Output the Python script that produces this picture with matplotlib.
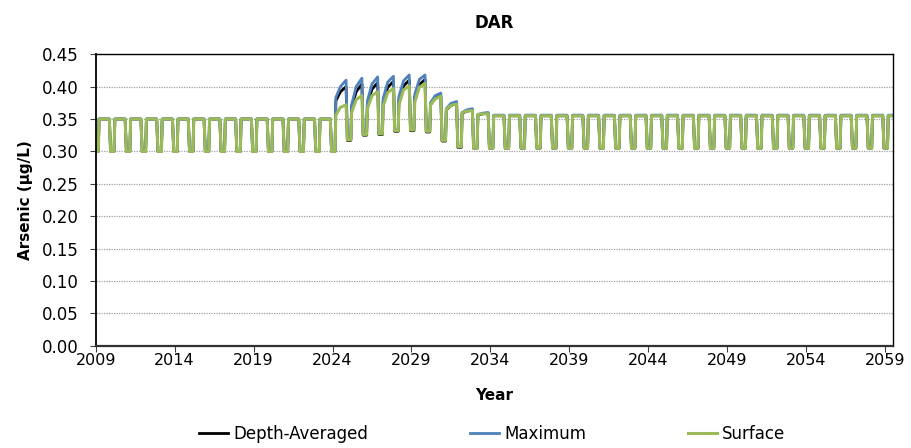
import matplotlib.pyplot as plt
import numpy as np

plt.rcParams['font.family'] = ['DejaVu Sans']

# yearly cycle values (2009 .. 2059)
years = list(range(2009, 2060))

# trough before each year's high period
surf_low = [0.30] * 16 + [0.318, 0.326, 0.327, 0.332, 0.333, 0.331, 0.317, 0.307] + [0.305] * 27
max_low = [0.30] * 16 + [0.319, 0.327, 0.328, 0.333, 0.334, 0.332, 0.318, 0.307] + [0.305] * 27
avg_low = [0.30] * 16 + [0.317, 0.325, 0.326, 0.331, 0.332, 0.330, 0.316, 0.306] + [0.305] * 27

# value right after the rise
surf_start = [0.35] * 15 + [0.356, 0.360, 0.366, 0.370, 0.372, 0.376, 0.372, 0.365, 0.360, 0.357] + [0.355] * 26
max_start = [0.35] * 15 + [0.383, 0.372, 0.378, 0.382, 0.385, 0.388, 0.375, 0.366, 0.360, 0.357] + [0.356] * 26
avg_start = [0.35] * 15 + [0.378, 0.368, 0.374, 0.378, 0.381, 0.384, 0.372, 0.364, 0.359, 0.356] + [0.355] * 26

# value in the middle of the high period
surf_mid = [0.35] * 15 + [0.368, 0.380, 0.386, 0.391, 0.395, 0.399, 0.381, 0.371, 0.362, 0.358] + [0.355] * 26
max_mid = [0.35] * 15 + [0.400, 0.400, 0.404, 0.407, 0.409, 0.411, 0.386, 0.374, 0.364, 0.359] + [0.356] * 26
avg_mid = [0.35] * 15 + [0.392, 0.392, 0.396, 0.399, 0.401, 0.403, 0.382, 0.371, 0.362, 0.358] + [0.355] * 26

# value just before the drop
surf_peak = [0.35] * 15 + [0.372, 0.386, 0.392, 0.397, 0.401, 0.405, 0.385, 0.373, 0.363, 0.358] + [0.355] * 26
max_peak = [0.35] * 15 + [0.410, 0.413, 0.415, 0.416, 0.418, 0.418, 0.390, 0.377, 0.366, 0.360] + [0.356] * 26
avg_peak = [0.35] * 15 + [0.400, 0.404, 0.406, 0.408, 0.410, 0.411, 0.386, 0.374, 0.364, 0.359] + [0.355] * 26

# timing of the cycle inside a year (fraction of year)
phase = [-0.06, 0.16, 0.21, 0.50, 0.86]


def cycle(low, start, mid, peak):
    t, v = [], []
    for i, y in enumerate(years):
        t += [y + p for p in phase]
        v += [low[i], low[i], start[i], mid[i], peak[i]]
    return np.array(t), np.array(v)


fig = plt.figure(figsize=(9.12, 4.48), dpi=100)
ax = fig.add_axes([0.105, 0.228, 0.874, 0.651])

ax.grid(axis='y', color='#a0a0a0', linestyle=(0, (1, 1)), linewidth=0.9)
ax.set_axisbelow(True)

t, v = cycle(avg_low, avg_start, avg_mid, avg_peak)
ax.plot(t, v, color='black', lw=2.0, label='Depth-Averaged', solid_joinstyle='round')
t, v = cycle(max_low, max_start, max_mid, max_peak)
ax.plot(t, v, color='#4F81BD', lw=2.0, label='Maximum', solid_joinstyle='round')
t, v = cycle(surf_low, surf_start, surf_mid, surf_peak)
ax.plot(t, v, color='#9BBB59', lw=2.2, label='Surface', solid_joinstyle='round')

ax.set_xlim(2009, 2059.5)
ax.set_ylim(0, 0.45)
ax.set_xticks(range(2009, 2060, 5))
ax.set_yticks(np.arange(0, 0.451, 0.05))
ax.set_yticklabels(['%.2f' % y for y in np.arange(0, 0.451, 0.05)])
ax.tick_params(axis='both', direction='out', length=4.3, color='#404040')
ax.tick_params(axis='y', labelsize=12, pad=8)
ax.tick_params(axis='x', labelsize=11.5, pad=1)
for s in ax.spines.values():
    s.set_color('black')
    s.set_linewidth(1.0)
ax.spines['bottom'].set_linewidth(1.6)
ax.spines['bottom'].set_color('#303030')
ax.spines['left'].set_linewidth(1.3)

ax.set_title('DAR', fontsize=12, fontweight='bold', pad=19)
ax.set_xlabel('Year', fontsize=11, fontweight='bold')
ax.xaxis.set_label_coords(0.5, -0.145)
ax.set_ylabel('Arsenic (µg/L)', fontsize=11, fontweight='bold')
ax.yaxis.set_label_coords(-0.079, 0.5)

fig.legend(loc='center', bbox_to_anchor=(492 / 912, 1 - 434 / 448), ncol=3, frameon=False,
           fontsize=12, handlelength=1.75, handletextpad=0.3, columnspacing=6.1)

fig.savefig('out.png', dpi=100)
